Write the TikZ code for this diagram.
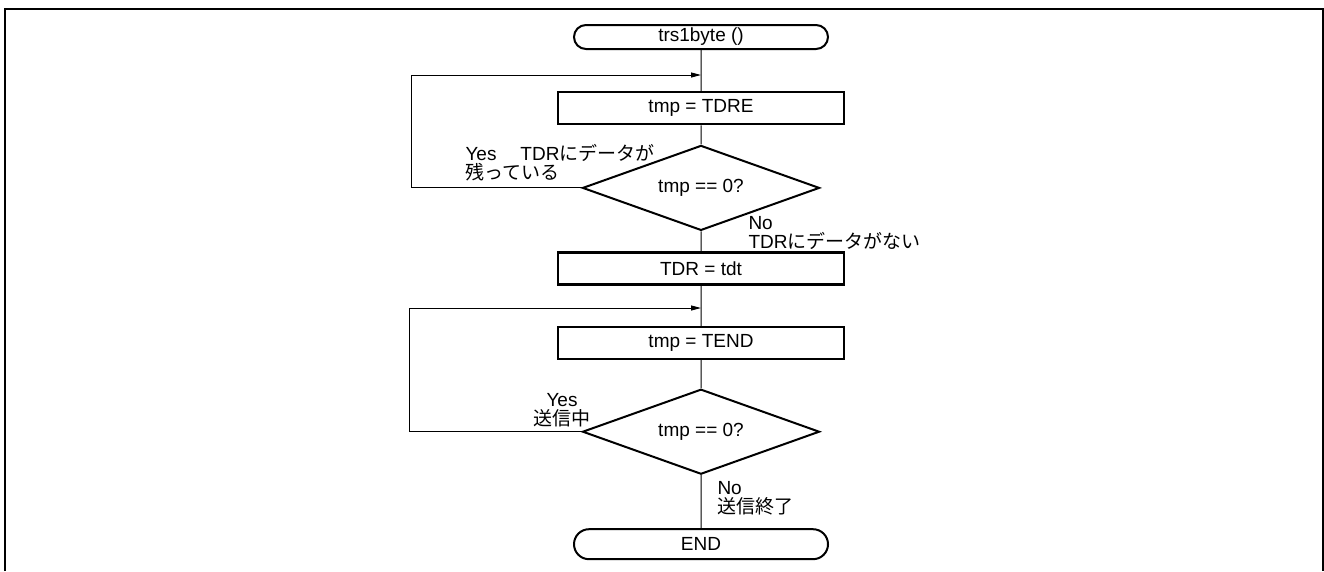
\documentclass[tikz,border=0pt]{standalone}
\usepackage{fontspec}
\setmainfont{Liberation Sans}
\newfontfamily\jp{Noto Sans CJK JP}
\usetikzlibrary{shapes.geometric,shapes.misc,arrows.meta,positioning}
\newcommand\txtsize{\fontsize{19pt}{19pt}\selectfont}

\begin{document}
\begin{tikzpicture}[x=1pt,y=-1pt,line width=1pt]
\tikzstyle{every node}=[font=\txtsize]
\tikzstyle{term}=[rounded rectangle, draw, line width=2pt, minimum width=254pt, minimum height=24pt, inner sep=0pt]
\tikzstyle{proc}=[rectangle, draw, line width=2.4pt, minimum width=286pt, minimum height=32pt, inner sep=0pt]
\tikzstyle{decide}=[diamond, draw, line width=2pt, aspect=2.8, minimum width=237pt, minimum height=85pt, inner sep=0pt]
\tikzstyle{lbl}=[align=left, inner sep=0pt]
\tikzstyle{back}=[-{Triangle[length=10pt,width=5pt]}]
\useasboundingbox (0,0) rectangle (1324,571);
\draw[line width=2pt] (5,571) -- (5,9) -- (1323,9) -- (1323,571);

\node[term] (start) at (701,37) {trs1byte ()};
\node[proc, below=41pt of start] (tdre) {tmp = TDRE};
\node[decide, below=19pt of tdre] (chk1) {tmp == 0?};
\node[proc, below=20pt of chk1] (tdr) {TDR = tdt};
\node[proc, below=40pt of tdr] (tend) {tmp = TEND};
\node[decide, below=28pt of tend] (chk2) {tmp == 0?};
\node[term, below=53pt of chk2, minimum height=30pt] (fin) {END};

\coordinate (j1) at (701,75);
\coordinate (c1) at (411,75);
\coordinate (j2) at (701,308);
\coordinate (c2) at (409,308);

\draw (start) -- (tdre) -- (chk1) -- (tdr) -- (tend) -- (chk2) -- (fin);
\draw[back] (chk1.west) -| (c1) -- (j1);
\draw[back] (chk2.west) -| (c2) -- (j2);

\node[lbl, anchor=base west] (yes1) at (465,179) {Yes\hspace{24pt}TDR{\jp にデータが}\\{\jp 残っている}};
\node[lbl, anchor=base west] (no1) at (748,248) {No\\TDR{\jp にデータがない}};
\node[lbl, anchor=base west, align=center] (yes2) at (533,425) {Yes\\{\jp 送信中}};
\node[lbl, anchor=base west] (no2) at (717,513) {No\\{\jp 送信終了}};
\end{tikzpicture}
\end{document}
